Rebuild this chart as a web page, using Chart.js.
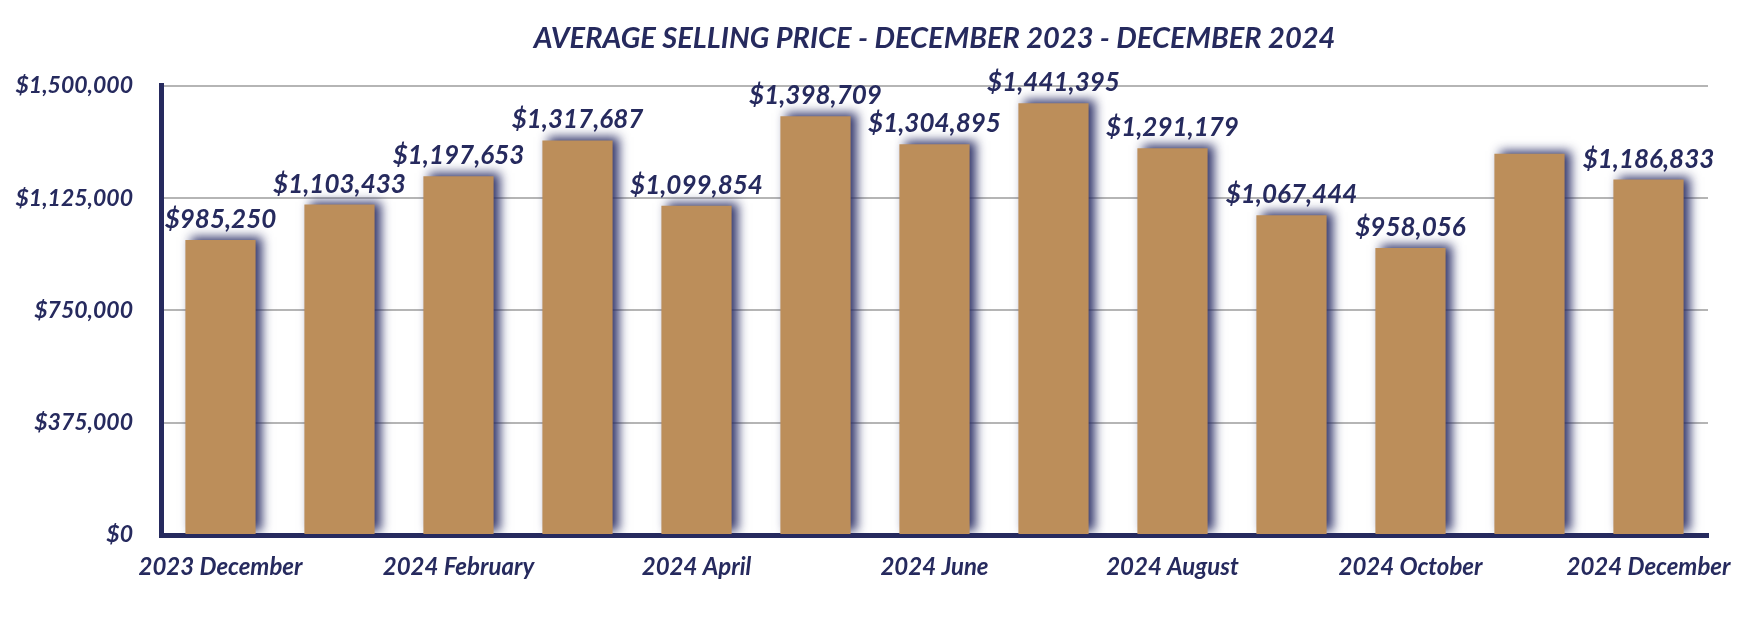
<!DOCTYPE html>
<html>
<head>
<meta charset="utf-8">
<script src="https://cdn.jsdelivr.net/npm/chart.js@4.4.1/dist/chart.umd.min.js"></script>
<style>
  html, body { margin: 0; padding: 0; background: #fff; }
  #wrap { width: 1750px; height: 628px; }
</style>
</head>
<body>
<div id="wrap"><canvas id="priceChart" width="1750" height="628"></canvas></div>
<script>
const months = [
  "2023 December", "2024 January", "2024 February", "2024 March", "2024 April",
  "2024 May", "2024 June", "2024 July", "2024 August", "2024 September",
  "2024 October", "2024 November", "2024 December"
];
const avgPrice = [
  985250, 1103433, 1197653, 1317687, 1099854, 1398709, 1304895,
  1441395, 1291179, 1067444, 958056, 1273000, 1186833
];
// the November bar carries no value label in the original
const showValue = [true, true, true, true, true, true, true, true, true, true, true, false, true];
const yTicks = [0, 375000, 750000, 1125000, 1500000];

const navy = "#262a5e";
const gold = "#bc8e5a";
const fontFamily = "Lato, 'Open Sans', sans-serif";

function money(v) {
  return "$" + Math.round(v).toLocaleString("en-US");
}

const barShadow = {
  id: "barShadow",
  beforeDatasetDraw(chart) {
    const ctx = chart.ctx;
    ctx.save();
    ctx.shadowColor = "rgba(40, 44, 100, 0.95)";
    ctx.shadowBlur = 10;
    ctx.shadowOffsetX = 6;
    ctx.shadowOffsetY = -3;
  },
  afterDatasetDraw(chart) {
    chart.ctx.restore();
  }
};

const valueLabels = {
  id: "valueLabels",
  afterDatasetsDraw(chart) {
    const ctx = chart.ctx;
    const meta = chart.getDatasetMeta(0);
    ctx.save();
    ctx.fillStyle = navy;
    ctx.font = "italic bold 26px " + fontFamily;
    ctx.textAlign = "center";
    ctx.textBaseline = "alphabetic";
    meta.data.forEach((bar, i) => {
      if (!showValue[i]) return;
      ctx.fillText(money(avgPrice[i]), bar.x, bar.y - 12);
    });
    ctx.restore();
  }
};

const ctx = document.getElementById("priceChart").getContext("2d");
const chart = new Chart(ctx, {
  type: "bar",
  data: {
    labels: months,
    datasets: [{
      label: "Average Selling Price",
      data: avgPrice,
      backgroundColor: gold,
      borderWidth: 0,
      barPercentage: 0.59,
      categoryPercentage: 1.0
    }]
  },
  options: {
    responsive: false,
    animation: false,
    layout: { padding: { left: 0, right: 42, top: 0, bottom: 0 } },
    plugins: {
      legend: { display: false },
      tooltip: { enabled: false },
      title: {
        display: true,
        fullSize: false,
        text: "AVERAGE SELLING PRICE - DECEMBER 2023 - DECEMBER 2024",
        color: navy,
        font: { family: fontFamily, size: 29, style: "italic", weight: "bold" },
        padding: { top: 21, bottom: 30 }
      }
    },
    scales: {
      x: {
        z: 1,
        grid: { display: false },
        border: { display: true, color: navy, width: 5 },
        ticks: {
          autoSkip: false,
          maxRotation: 0,
          padding: 10,
          color: navy,
          font: { family: fontFamily, size: 24, style: "italic", weight: "bold" },
          callback: (v, i) => (i % 2 === 0 ? months[i] : "")
        },
        afterFit(scale) { scale.height = 93; }
      },
      y: {
        min: 0,
        max: 1500000,
        afterBuildTicks(scale) {
          scale.ticks = yTicks.map(v => ({ value: v }));
        },
        grid: { color: "#b5b5b5", lineWidth: 2, drawTicks: false },
        border: { display: true, color: navy, width: 5 },
        ticks: {
          padding: 28,
          color: navy,
          font: { family: fontFamily, size: 23, style: "italic", weight: "bold" },
          callback: v => money(v)
        },
        afterFit(scale) { scale.width = 161; }
      }
    }
  },
  plugins: [barShadow, valueLabels]
});
</script>
</body>
</html>
